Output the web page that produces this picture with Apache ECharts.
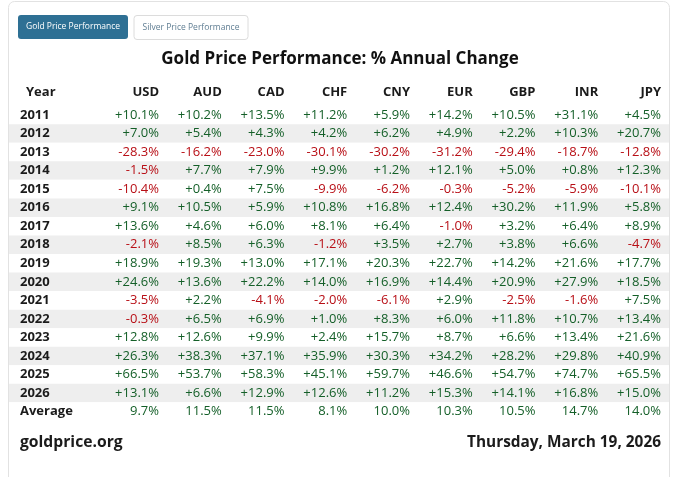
<!DOCTYPE html>
<html lang="en">
<head>
    <meta charset="UTF-8">
    <title>Gold Price Performance</title>
    <style>
        html, body {
            margin: 0;
            padding: 0;
            background: #fff;
        }
        #chart {
            width: 680px;
            height: 477px;
        }
    </style>
</head>
<body>
<div id="chart"></div>

<script src="https://cdn.jsdelivr.net/npm/echarts@6/dist/echarts.min.js"></script>
<script>
    // rows and columns of the table
    const years = ['2011', '2012', '2013', '2014', '2015', '2016', '2017', '2018',
        '2019', '2020', '2021', '2022', '2023', '2024', '2025', '2026', 'Average'];
    const currencies = ['USD', 'AUD', 'CAD', 'CHF', 'CNY', 'EUR', 'GBP', 'INR', 'JPY'];

    // % annual change, 2011 -> 2026, last value is the average
    const usd = [10.1, 7.0, -28.3, -1.5, -10.4, 9.1, 13.6, -2.1, 18.9, 24.6, -3.5, -0.3, 12.8, 26.3, 66.5, 13.1, 9.7];
    const aud = [10.2, 5.4, -16.2, 7.7, 0.4, 10.5, 4.6, 8.5, 19.3, 13.6, 2.2, 6.5, 12.6, 38.3, 53.7, 6.6, 11.5];
    const cad = [13.5, 4.3, -23.0, 7.9, 7.5, 5.9, 6.0, 6.3, 13.0, 22.2, -4.1, 6.9, 9.9, 37.1, 58.3, 12.9, 11.5];
    const chf = [11.2, 4.2, -30.1, 9.9, -9.9, 10.8, 8.1, -1.2, 17.1, 14.0, -2.0, 1.0, 2.4, 35.9, 45.1, 12.6, 8.1];
    const cny = [5.9, 6.2, -30.2, 1.2, -6.2, 16.8, 6.4, 3.5, 20.3, 16.9, -6.1, 8.3, 15.7, 30.3, 59.7, 11.2, 10.0];
    const eur = [14.2, 4.9, -31.2, 12.1, -0.3, 12.4, -1.0, 2.7, 22.7, 14.4, 2.9, 6.0, 8.7, 34.2, 46.6, 15.3, 10.3];
    const gbp = [10.5, 2.2, -29.4, 5.0, -5.2, 30.2, 3.2, 3.8, 14.2, 20.9, -2.5, 11.8, 6.6, 28.2, 54.7, 14.1, 10.5];
    const inr = [31.1, 10.3, -18.7, 0.8, -5.9, 11.9, 6.4, 6.6, 21.6, 27.9, -1.6, 10.7, 13.4, 29.8, 74.7, 16.8, 14.7];
    const jpy = [4.5, 20.7, -12.8, 12.3, -10.1, 5.8, 8.9, -4.7, 17.7, 18.5, 7.5, 13.4, 21.6, 40.9, 65.5, 15.0, 14.0];

    const columns = [usd, aud, cad, chf, cny, eur, gbp, inr, jpy];

    const FONT = '"Open Sans", "Noto Sans", sans-serif';
    const GREEN = '#145f28';
    const RED = '#b80f16';
    const DARK = '#1b1b1b';

    // one cell per [column, row]
    const cells = [];
    columns.forEach((col, ci) => {
        col.forEach((v, ri) => {
            cells.push({
                value: [ci, ri, v],
                label: { color: v < 0 ? RED : GREEN },
                avg: years[ri] === 'Average'
            });
        });
    });

    function fmt(v, isAvg) {
        const s = v.toFixed(1) + '%';
        return (!isAvg && v > 0) ? '+' + s : s;
    }

    const TOP = 105.7;
    const HEIGHT = 315.2;

    const chart = echarts.init(document.getElementById('chart'));

    chart.setOption({
        animation: false,
        title: {
            text: 'Gold Price Performance: % Annual Change',
            left: 'center',
            top: 46,
            textStyle: {
                fontFamily: FONT,
                fontSize: 17,
                fontWeight: 'bold',
                color: '#111'
            }
        },
        graphic: [
            // card outline
            {
                type: 'rect', z: -10,
                shape: { x: 8.5, y: 1.5, width: 661, height: 520, r: 6 },
                style: { fill: '#fff', stroke: '#e2e2e2', lineWidth: 1 }
            },
            // tab buttons
            {
                type: 'rect',
                shape: { x: 18, y: 15, width: 110, height: 24, r: 3 },
                style: { fill: '#2e7094' }
            },
            {
                type: 'text',
                style: {
                    x: 73, y: 27, text: 'Gold Price Performance',
                    fill: '#fff', font: '8.5px ' + FONT,
                    textAlign: 'center', textVerticalAlign: 'middle'
                }
            },
            {
                type: 'rect',
                shape: { x: 134, y: 15.5, width: 114, height: 24, r: 3 },
                style: { fill: '#fff', stroke: '#dcdcdc', lineWidth: 1 }
            },
            {
                type: 'text',
                style: {
                    x: 191, y: 27.5, text: 'Silver Price Performance',
                    fill: '#5f7d92', font: '8.5px ' + FONT,
                    textAlign: 'center', textVerticalAlign: 'middle'
                }
            },
            // header of the year column
            {
                type: 'text',
                style: {
                    x: 26, y: 92, text: 'Year',
                    fill: DARK, font: 'bold 13px ' + FONT,
                    textVerticalAlign: 'middle'
                }
            },
            // footer
            {
                type: 'text',
                style: {
                    x: 20, y: 443, text: 'goldprice.org',
                    fill: DARK, font: 'bold 15.7px ' + FONT,
                    textVerticalAlign: 'middle'
                }
            },
            {
                type: 'text',
                style: {
                    x: 661, y: 443, text: 'Thursday, March 19, 2026',
                    fill: DARK, font: 'bold 15.4px ' + FONT,
                    textAlign: 'right', textVerticalAlign: 'middle'
                }
            }
        ],
        grid: [
            // full width: row stripes + year labels
            { left: 9, right: 11, top: TOP, height: HEIGHT },
            // currency columns, x positions are the right edges of the numbers
            { left: 159, right: 19, top: TOP, height: HEIGHT }
        ],
        xAxis: [
            { gridIndex: 0, type: 'value', show: false },
            {
                gridIndex: 1,
                type: 'category',
                data: currencies,
                boundaryGap: false,
                position: 'top',
                axisLine: { show: false },
                axisTick: { show: false },
                splitLine: { show: false },
                axisLabel: {
                    align: 'right',
                    margin: 7,
                    fontFamily: FONT,
                    fontSize: 13,
                    fontWeight: 'bold',
                    color: DARK
                }
            }
        ],
        yAxis: [
            {
                gridIndex: 0,
                type: 'category',
                data: years,
                inverse: true,
                axisLine: { show: false },
                axisTick: { show: false },
                splitArea: {
                    show: true,
                    areaStyle: { color: ['#ffffff', '#eeeeee'] }
                },
                axisLabel: {
                    inside: true,
                    margin: 11,
                    align: 'left',
                    fontFamily: FONT,
                    fontSize: 13,
                    fontWeight: 'bold',
                    color: DARK
                }
            },
            {
                gridIndex: 1,
                type: 'category',
                data: years,
                inverse: true,
                show: false
            }
        ],
        series: [{
            type: 'scatter',
            xAxisIndex: 1,
            yAxisIndex: 1,
            symbolSize: 0,
            itemStyle: { opacity: 1 },
            data: cells,
            label: {
                show: true,
                position: 'left',
                distance: 0,
                opacity: 1,
                fontFamily: FONT,
                fontSize: 13,
                formatter: p => fmt(p.value[2], p.data.avg)
            }
        }]
    });
</script>
</body>
</html>
